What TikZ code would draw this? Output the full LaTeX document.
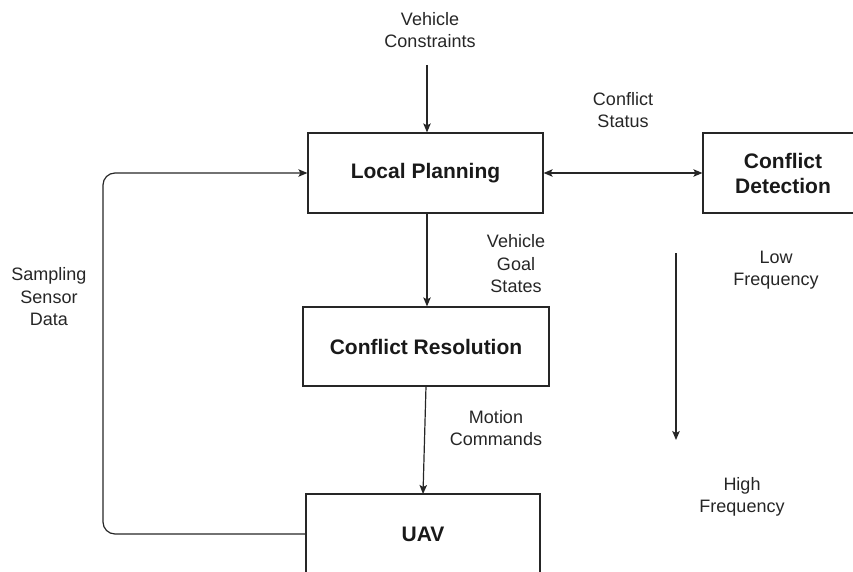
\documentclass[tikz,border=0pt]{standalone}
\usepackage{fontspec}
\setmainfont{Liberation Sans}
\usetikzlibrary{arrows.meta}
\begin{document}
\begin{tikzpicture}[x=1pt,y=-1pt,
  line width=1.2pt,
  box/.style={draw=black!85, line width=1.2pt, inner sep=0pt},
  title/.style={font=\fontsize{21}{25}\selectfont\bfseries, text=black!90},
  lbl/.style={font=\fontsize{18}{22.5}\selectfont, align=center, text=black!85},
  link/.style={draw=black!85, -{Stealth[length=9pt,width=7.5pt,inset=2pt]}},
  twoway/.style={draw=black!85, {Stealth[length=9pt,width=7.5pt,inset=2pt]}-{Stealth[length=9pt,width=7.5pt,inset=2pt]}}]
  \useasboundingbox (0,0) rectangle (853,572);
  \clip (0,0) rectangle (853,572);

  % blocks
  \node[box, minimum width=235pt, minimum height=80pt] (lp) at (425.5,173) {};
  \node[title] at (lp.center) {Local Planning};
  \node[box, minimum width=160pt, minimum height=80pt] (cd) at (783,173) {};
  \node[title, align=center] at (cd.center) {Conflict\\Detection};
  \node[box, minimum width=246pt, minimum height=79pt] (cr) at (426,346.5) {};
  \node[title] at (cr.center) {Conflict Resolution};
  \node[box, minimum width=234pt, minimum height=80pt] (uav) at (423,534) {};
  \node[title] at (uav.center) {UAV};

  % labels
  \node[lbl] (vc) at (430,30) {Vehicle\\Constraints};
  \node[lbl] (cs) at (623,110) {Conflict\\Status};
  \node[lbl] (vgs) at (516,264) {Vehicle\\Goal\\States};
  \node[lbl] (mc) at (496,428) {Motion\\Commands};
  \node[lbl] (ssd) at (49,297) {Sampling\\Sensor\\Data};
  \node[lbl] (lf) at (776,270) {Low\\Frequency};
  \node[lbl] (hf) at (742,497) {High\\Frequency};

  % connectors
  \coordinate (vcin) at (427,65);
  \draw[link] (vcin) -- (lp.north -| vcin);
  \draw[twoway] (lp.east) -- (cd.west);
  \draw[link] (lp.south -| 427,0) -- (cr.north -| 427,0);
  \coordinate (crout) at (426,386);
  \coordinate (uavin) at (423,494);
  \draw[link] (crout) -- (uavin);
  \draw[link, rounded corners=12pt] (uav.west) -- (103,534) -- (103,173) -- (lp.west);

  % frequency scale
  \coordinate (ftop) at (676,253);
  \coordinate (fbot) at (676,440);
  \draw[link] (ftop) -- (fbot);
\end{tikzpicture}
\end{document}
